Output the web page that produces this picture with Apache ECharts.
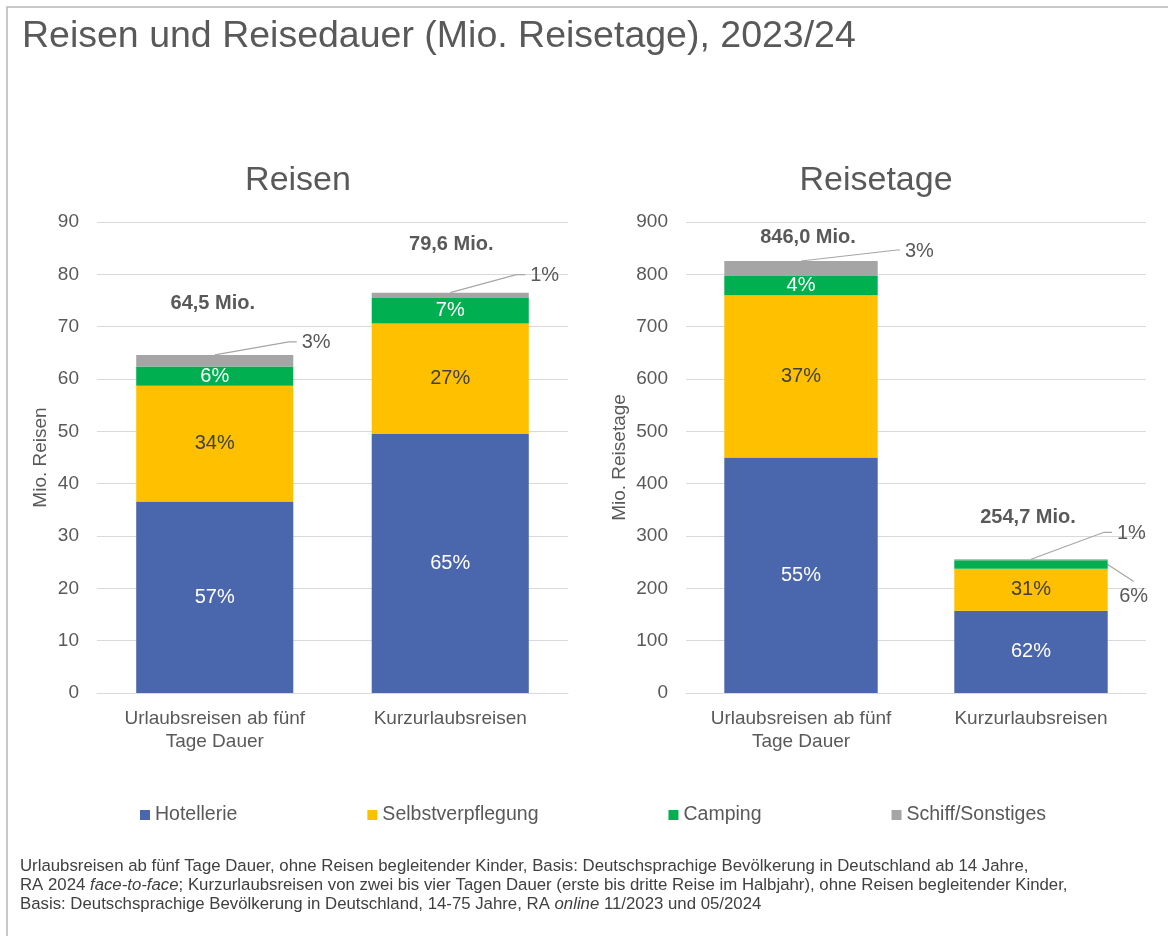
<!DOCTYPE html>
<html>
<head>
<meta charset="utf-8">
<title>Reisen und Reisedauer</title>
<script src="https://cdn.jsdelivr.net/npm/echarts@6/dist/echarts.min.js"></script>
<style>
  html, body { margin: 0; padding: 0; background: #fff; }
  #main { width: 1168px; height: 936px; }
</style>
</head>
<body>
<div id="main"></div>
<script>
// Werte
const categories = ['Urlaubsreisen ab fünf\nTage Dauer', 'Kurzurlaubsreisen'];
const seriesNames = ['Hotellerie', 'Selbstverpflegung', 'Camping', 'Schiff/Sonstiges'];

// Reisen (Mio.)
const reisenHotellerie = [36.6, 49.5];
const reisenSelbst = [22.1, 21.1];
const reisenCamping = [3.7, 4.9];
const reisenSchiff = [2.2, 1.0];
const reisenPct = [['57%', '65%'], ['34%', '27%'], ['6%', '7%'], ['3%', '1%']];
const reisenTotal = ['64,5 Mio.', '79,6 Mio.'];
const reisenAxis = [0, 90, 10];

// Reisetage (Mio.)
const tageHotellerie = [450, 157];
const tageSelbst = [310, 80.5];
const tageCamping = [37, 16];
const tageSchiff = [28.5, 2];
const tagePct = [['55%', '62%'], ['37%', '31%'], ['4%', '6%'], ['3%', '1%']];
const tageTotal = ['846,0 Mio.', '254,7 Mio.'];
const tageAxis = [0, 900, 100];

const colors = ['#4A66AC', '#FFC000', '#00B050', '#A5A5A5'];
const FONT = '"Liberation Sans", Arial, sans-serif';
const GREY = '#595959';

const panels = [
  { data: [reisenHotellerie, reisenSelbst, reisenCamping, reisenSchiff], pct: reisenPct, total: reisenTotal, axis: reisenAxis, name: 'Mio. Reisen' },
  { data: [tageHotellerie, tageSelbst, tageCamping, tageSchiff], pct: tagePct, total: tageTotal, axis: tageAxis, name: 'Mio. Reisetage' }
];

// Beschriftungen ausserhalb der Balken (mit Fuehrungslinie)
// g = Panel, s = Serie, c = Kategorie
const callouts = [
  { g: 0, s: 3, c: 0, at: 'top', elbow: [74, -13], tail: 82 },
  { g: 0, s: 3, c: 1, at: 'top', elbow: [66, -18], tail: 75 },
  { g: 1, s: 3, c: 0, at: 'top', elbow: [96, -11], tail: 99 },
  { g: 1, s: 3, c: 1, at: 'top', elbow: [73, -27], tail: 81 },
  { g: 1, s: 2, c: 1, at: 'right', elbow: [26, 17] }
];
// Position der Summen relativ zur Balkenoberkante
const totalOffsets = [[[-2, -51], [1, -48]], [[7, -24], [-3, -42]]];

function isOutside(g, s, c) {
  return callouts.some(o => o.g === g && o.s === s && o.c === c);
}

const grids = [
  { left: 97, right: 600, top: 222, bottom: 243 },
  { left: 686, right: 22, top: 222, bottom: 243 }
];

const xAxes = panels.map((p, g) => ({
  type: 'category',
  gridIndex: g,
  data: categories,
  axisTick: { show: false },
  axisLine: { lineStyle: { color: '#d9d9d9', width: 1 } },
  axisLabel: { color: GREY, fontSize: 19, fontFamily: FONT, lineHeight: 23, margin: 14, interval: 0 }
}));

const yAxes = panels.map((p, g) => ({
  type: 'value',
  gridIndex: g,
  min: p.axis[0],
  max: p.axis[1],
  interval: p.axis[2],
  name: p.name,
  nameLocation: 'middle',
  nameGap: g === 0 ? 47 : 57,
  nameTextStyle: { color: GREY, fontSize: 19, fontFamily: FONT },
  axisLine: { show: false },
  axisTick: { show: false },
  splitLine: { lineStyle: { color: '#d9d9d9', width: 1 } },
  axisLabel: { color: GREY, fontSize: 19, fontFamily: FONT, margin: 18 }
}));

const series = [];
panels.forEach((p, g) => {
  p.data.forEach((vals, s) => {
    series.push({
      name: seriesNames[s],
      type: 'bar',
      stack: 'panel' + g,
      xAxisIndex: g,
      yAxisIndex: g,
      barWidth: '66.7%',
      itemStyle: { color: colors[s] },
      data: vals.map((v, c) => (s === 3 || isOutside(g, s, c)) ? { value: v, label: { show: false } } : v),
      label: {
        show: true,
        position: 'inside',
        formatter: prm => p.pct[s][prm.dataIndex],
        color: s === 1 ? '#404040' : '#fff',
        fontSize: 20,
        fontFamily: FONT
      }
    });
  });
});

const chart = echarts.init(document.getElementById('main'));
chart.setOption({
  animation: false,
  title: {
    text: 'Reisen und Reisedauer (Mio. Reisetage), 2023/24',
    left: 22,
    top: 18,
    padding: 0,
    textStyle: { color: GREY, fontSize: 37.5, fontWeight: 'normal', fontFamily: FONT }
  },
  legend: {
    data: seriesNames,
    left: 140,
    top: 805,
    padding: 0,
    itemGap: 130,
    itemWidth: 10,
    itemHeight: 10,
    icon: 'rect',
    textStyle: { color: GREY, fontSize: 19.5, fontFamily: FONT }
  },
  grid: grids,
  xAxis: xAxes,
  yAxis: yAxes,
  series: series
});

// Annotationen: Summen, Fuehrungslinien, Rahmen, Untertitel, Fussnote
const graphics = [];
graphics.push({
  type: 'rect', silent: true,
  shape: { x: 7, y: 7, width: 1400, height: 1200 },
  style: { fill: 'none', stroke: '#b8b8b8', lineWidth: 1.5 }
});
graphics.push({
  type: 'text', x: 298, y: 181,
  style: { text: 'Reisen', fill: GREY, fontSize: 34, fontFamily: FONT, align: 'center', verticalAlign: 'middle' }
});
graphics.push({
  type: 'text', x: 876, y: 181,
  style: { text: 'Reisetage', fill: GREY, fontSize: 34, fontFamily: FONT, align: 'center', verticalAlign: 'middle' }
});

function stackTop(g, s, c) {
  let sum = 0;
  for (let i = 0; i <= s; i++) sum += panels[g].data[i][c];
  return sum;
}

panels.forEach((p, g) => {
  const x0 = chart.convertToPixel({ gridIndex: g }, [0, 0])[0];
  const x1 = chart.convertToPixel({ gridIndex: g }, [1, 0])[0];
  const halfBar = (x1 - x0) * 0.667 / 2;
  p.total.forEach((t, c) => {
    const pt = chart.convertToPixel({ gridIndex: g }, [c, stackTop(g, 3, c)]);
    const off = totalOffsets[g][c];
    graphics.push({
      type: 'text', x: pt[0] + off[0], y: pt[1] + off[1],
      style: { text: t, fill: GREY, fontSize: 20, fontWeight: 'bold', fontFamily: FONT, align: 'center', verticalAlign: 'middle' }
    });
  });
  callouts.filter(o => o.g === g).forEach(o => {
    let start;
    if (o.at === 'top') {
      start = chart.convertToPixel({ gridIndex: g }, [o.c, stackTop(g, o.s, o.c)]);
    } else {
      const top = stackTop(g, o.s, o.c);
      const mid = top - p.data[o.s][o.c] / 2;
      const pt = chart.convertToPixel({ gridIndex: g }, [o.c, mid]);
      start = [pt[0] + halfBar, pt[1]];
    }
    const elbow = [start[0] + o.elbow[0], start[1] + o.elbow[1]];
    const pts = [start, elbow];
    let label;
    if (o.tail) {
      pts.push([start[0] + o.tail, elbow[1]]);
      label = { x: start[0] + o.tail + 5, y: elbow[1] + 1, align: 'left' };
    } else {
      label = { x: elbow[0], y: elbow[1] + 15, align: 'center' };
    }
    graphics.push({
      type: 'polyline', silent: true,
      shape: { points: pts },
      style: { stroke: '#a6a6a6', lineWidth: 1.2, fill: null }
    });
    graphics.push({
      type: 'text', x: label.x, y: label.y,
      style: { text: p.pct[o.s][o.c], fill: GREY, fontSize: 20, fontFamily: FONT, align: label.align, verticalAlign: 'middle' }
    });
  });
});

graphics.push({
  type: 'text', x: 20, y: 857,
  style: {
    text: '{n|Urlaubsreisen ab fünf Tage Dauer, ohne Reisen begleitender Kinder, Basis: Deutschsprachige Bevölkerung in Deutschland ab 14 Jahre,}\n' +
          '{n|RA 2024 }{i|face-to-face}{n|; Kurzurlaubsreisen von zwei bis vier Tagen Dauer (erste bis dritte Reise im Halbjahr), ohne Reisen begleitender Kinder,}\n' +
          '{n|Basis: Deutschsprachige Bevölkerung in Deutschland, 14-75 Jahre, RA }{i|online}{n| 11/2023 und 05/2024}',
    verticalAlign: 'top',
    rich: {
      n: { fill: '#404040', fontSize: 16.8, fontFamily: FONT, lineHeight: 19 },
      i: { fill: '#404040', fontSize: 16.8, fontFamily: FONT, fontStyle: 'italic', lineHeight: 19 }
    }
  }
});

chart.setOption({ graphic: graphics });
</script>
</body>
</html>
